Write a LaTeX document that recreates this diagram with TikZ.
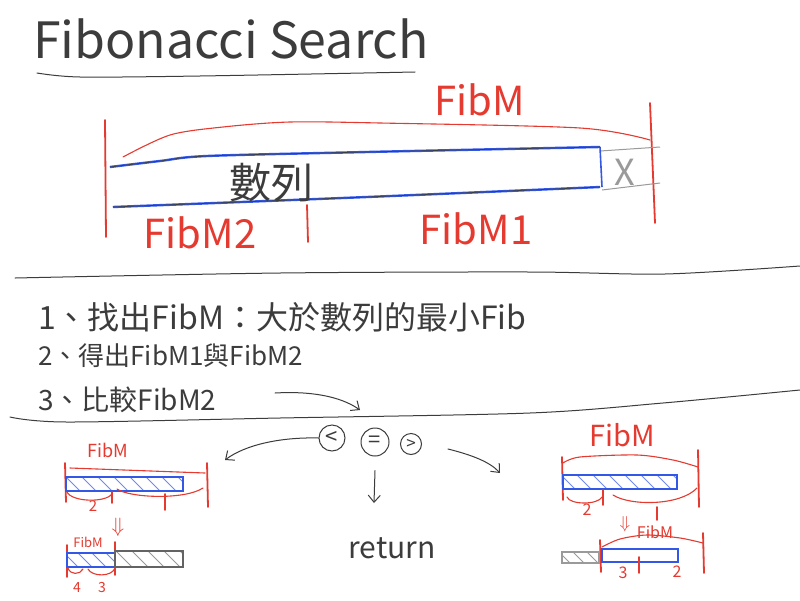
\documentclass[tikz,border=0pt]{standalone}
\usepackage{fontspec}
\setmainfont{Noto Sans CJK TC}
\usetikzlibrary{arrows.meta}
\definecolor{penred}{HTML}{E53A2F}
\definecolor{penblue}{HTML}{3358E6}
\definecolor{ink}{HTML}{3C3C3C}
\definecolor{pengray}{HTML}{9A9A9A}

\begin{document}
\begin{tikzpicture}[x=1pt,y=-1pt,
  >={Straight Barb[length=7pt,width=12pt]},
  pen/.style={draw=ink, line width=1pt, line cap=round},
  red pen/.style={draw=penred, line width=1.1pt, line cap=round},
  red bar/.style={draw=penred, line width=1.8pt, line cap=round},
  blue pen/.style={draw=penblue, line width=1.1pt},
  gray pen/.style={draw=pengray, line width=1pt},
  hatch blue/.style={draw=penblue!70, line width=0.8pt},
  hatch gray/.style={draw=pengray, line width=0.8pt},
  handtext/.style={text=ink, inner sep=0pt},
  redtext/.style={text=penred, inner sep=0pt},
  cmpcircle/.style={draw=ink, line width=1pt, circle, inner sep=0pt, minimum size=26pt, text=ink, font=\fontsize{22}{22}\selectfont}]
  \useasboundingbox (0,0) rectangle (800,600);
  \fill[white] (0,0) rectangle (800,600);
  % title
  \node[handtext, anchor=base west, font=\fontsize{50}{55}\selectfont] (title) at (33,58) {Fibonacci Search};
  \draw[pen] plot[smooth] coordinates {(37,73) (80,77) (200,76) (415,72)};
  % the sequence
  \draw[red bar] (105,120) -- (106,237);
  \draw[red bar] (307,205) -- (308,242);
  \draw[red bar] (650,103) -- (655,223);
  \draw[red pen] plot[smooth] coordinates {(123,157) (170,135) (223,127) (290,122) (380,123) (580,128) (650,140)};
  \draw[gray pen] (600,151) -- (660,147);
  \draw[gray pen] (602,190) -- (660,183);
  \draw[draw=penblue, line width=2.4pt] plot[smooth] coordinates {(110,167) (160,161) (207,156) (367,152) (600,147)};
  \draw[draw=penblue, line width=2.4pt] plot[smooth] coordinates {(113,207) (367,197) (600,187)};
  \draw[draw=penblue, line width=1.6pt] (600,147) -- (602,187);
  \draw[pen, line width=0.6pt] plot[smooth] coordinates {(110,167) (160,161) (207,156) (367,152) (600,147)};
  \draw[pen, line width=0.6pt] plot[smooth] coordinates {(113,207) (367,197) (600,187)};
  \node[handtext, font=\fontsize{42}{42}\selectfont] (seq) at (271,183) {數列};
  \node[text=pengray, inner sep=0pt, font=\fontsize{36}{36}\selectfont] (cut) at (625,172) {X};
  \node[redtext, anchor=base, font=\fontsize{40}{40}\selectfont] (fibM) at (480,115) {FibM};
  \node[redtext, anchor=base, font=\fontsize{40}{40}\selectfont] (fibMtwo) at (200,248) {FibM2};
  \node[redtext, anchor=base, font=\fontsize{40}{40}\selectfont] (fibMone) at (476,244) {FibM1};
  \draw[pen] plot[smooth] coordinates {(15,278) (280,273) (530,272) (665,274) (800,266)};
  % the steps
  \node[handtext, anchor=base west, font=\fontsize{32}{32}\selectfont] (step1) at (38,329) {1、找出FibM：大於數列的最小Fib};
  \node[handtext, anchor=base west, font=\fontsize{26}{26}\selectfont] (step2) at (38,365) {2、得出FibM1與FibM2};
  \node[handtext, anchor=base west, font=\fontsize{28}{28}\selectfont] (step3) at (38,410) {3、比較FibM2};
  \coordinate (cmpfrom) at (275,393);
  \coordinate (cmpto) at (360,410);
  \draw[pen, ->] (cmpfrom) .. controls (310,391) and (340,396) .. (cmpto);
  \draw[pen] plot[smooth] coordinates {(10,417) (67,422) (280,418) (530,413) (663,403) (800,390)};
  % compare
  \node[cmpcircle] (lt) at (332,438) {<};
  \node[cmpcircle, minimum size=28pt] (eq) at (375,442) {=};
  \node[cmpcircle, minimum size=21pt, font=\fontsize{17}{17}\selectfont] (gt) at (411,444) {>};
  \coordinate (toleft) at (225,460);
  \coordinate (fromgt) at (448,449);
  \coordinate (togt) at (500,473);
  \coordinate (toret) at (374,503);
  \draw[pen, ->] (lt.west) .. controls (280,437) and (245,445) .. (toleft);
  \draw[pen, ->] (fromgt) .. controls (472,455) and (490,462) .. (togt);
  \draw[pen, ->] ([yshift=-14pt]eq.south) -- (toret);
  \node[handtext, font=\fontsize{30}{30}\selectfont] (ret) at (392,548) {return};
  % less than
  \node[redtext, font=\fontsize{18}{18}\selectfont] (lfib) at (108,450) {FibM};
  \draw[red bar] (65,463) -- (66,502);
  \draw[red bar] (207,463) -- (208,507);
  \draw[red pen] (70,468) -- (205,473);
  \begin{scope}
    \clip (66,477) rectangle (183,491);
    \foreach \x in {50,66,...,190}
      \draw[hatch blue] (\x,477) -- ++(14,14);
  \end{scope}
  \draw[blue pen] (66,477) rectangle (183,491);
  \draw[red pen] (67,492) .. controls (72,502) and (105,503) .. (112,494);
  \node[redtext, font=\fontsize{15}{15}\selectfont] (ltwo) at (93,506) {2};
  \draw[red bar] (112,492) -- (112,503);
  \draw[red pen] (117,489) .. controls (130,498) and (185,500) .. (203,488);
  \draw[red bar] (165,494) -- (165,510);
  \node[redtext, font=\fontsize{22}{22}\selectfont] (ldown) at (118,527) {$\Downarrow$};
  \node[redtext, font=\fontsize{13}{13}\selectfont] (lfibs) at (88,542) {FibM};
  \draw[red bar] (67,545) -- (67,577);
  \draw[red bar] (115,542) -- (115,575);
  \begin{scope}
    \clip (67,553) rectangle (115,567);
    \foreach \x in {50,64,...,120}
      \draw[hatch blue] (\x,553) -- ++(14,14);
  \end{scope}
  \draw[blue pen] (67,553) rectangle (115,567);
  \begin{scope}
    \clip (115,551) rectangle (183,567);
    \foreach \x in {100,116,...,190}
      \draw[hatch gray] (\x,551) -- ++(16,16);
  \end{scope}
  \draw[draw=ink!80, line width=1.6pt] (115,551) rectangle (183,567);
  \draw[red pen] (68,568) .. controls (70,575) and (80,575) .. (83,569);
  \draw[red pen] (88,569) .. controls (92,577) and (112,577) .. (115,568);
  \node[redtext, font=\fontsize{14}{14}\selectfont] (lfour) at (77,587) {4};
  \node[redtext, font=\fontsize{14}{14}\selectfont] (lthree) at (102,587) {3};
  % greater than
  \node[redtext, font=\fontsize{29}{29}\selectfont] (rfib) at (622,435) {FibM};
  \draw[red bar] (562,457) -- (563,500);
  \draw[red bar] (698,450) -- (699,507);
  \draw[red pen] plot[smooth] coordinates {(563,463) (580,457) (637,455) (673,460) (698,467)};
  \begin{scope}
    \clip (563,475) rectangle (677,489);
    \foreach \x in {545,561,...,690}
      \draw[hatch blue] (\x,475) -- ++(14,14);
  \end{scope}
  \draw[blue pen] (563,475) rectangle (677,489);
  \draw[red pen] (567,497) .. controls (570,505) and (598,505) .. (602,497);
  \node[redtext, font=\fontsize{16}{16}\selectfont] (rtwo) at (587,510) {2};
  \draw[red bar] (603,490) -- (603,505);
  \draw[red pen] (613,495) .. controls (630,506) and (680,506) .. (697,488);
  \draw[red bar] (657,507) -- (657,520);
  \node[redtext, font=\fontsize{17}{17}\selectfont] (rdown) at (625,524) {$\Downarrow$};
  \node[redtext, font=\fontsize{16}{16}\selectfont] (rfibs) at (655,532) {FibM};
  \draw[red bar] (600,540) -- (601,572);
  \draw[red bar] (703,533) -- (704,573);
  \draw[red pen] plot[smooth] coordinates {(602,547) (620,539) (647,535) (680,538) (703,543)};
  \begin{scope}
    \clip (562,552) rectangle (599,563);
    \foreach \x in {545,559,...,605}
      \draw[hatch gray] (\x,552) -- ++(11,11);
  \end{scope}
  \draw[draw=pengray, line width=1.2pt] (562,552) rectangle (599,563);
  \draw[blue pen] (602,549) rectangle (678,562);
  \draw[red bar] (639,557) -- (639,573);
  \node[redtext, font=\fontsize{16}{16}\selectfont] (rthree) at (623,573) {3};
  \node[redtext, font=\fontsize{16}{16}\selectfont] (rtwob) at (677,572) {2};
\end{tikzpicture}
\end{document}
